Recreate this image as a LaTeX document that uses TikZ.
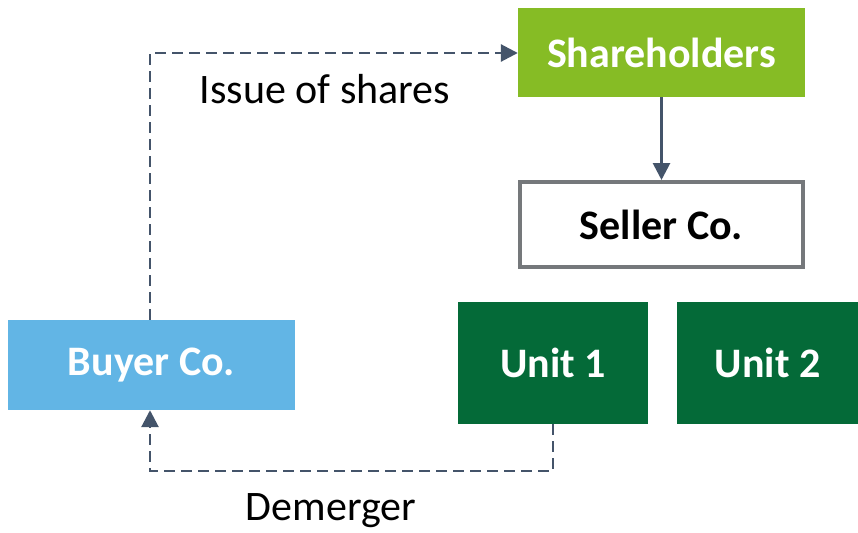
\documentclass[tikz,border=0pt]{standalone}
\usepackage{fontspec}
\setmainfont{Carlito}
\usetikzlibrary{arrows.meta}
\definecolor{shgreen}{HTML}{86BC25}
\definecolor{unitgreen}{HTML}{046A38}
\definecolor{buyerblue}{HTML}{62B5E5}
\definecolor{boxgray}{HTML}{75787B}
\definecolor{linkcol}{HTML}{44546A}
\tikzset{
  box/.style={rectangle, inner sep=0pt, font=\fontsize{42}{50}\selectfont\bfseries},
  filledbox/.style={box, text=white},
  label/.style={inner sep=0pt, font=\fontsize{42}{50}\selectfont},
  link/.style={draw=linkcol, line width=2.8pt, -{Triangle[length=17pt,width=17pt]}},
  dashlink/.style={link, dash pattern=on 11pt off 6pt},
}
\begin{document}
\begin{tikzpicture}[x=1pt,y=-1pt]
  \useasboundingbox (0,0) rectangle (858,532);
  % entities
  \node[filledbox, fill=shgreen, minimum width=287pt, minimum height=89pt] (sh) at (661.5,52.5) {Shareholders};
  \node[box, fill=white, draw=boxgray, line width=4pt, minimum width=283pt, minimum height=85pt] (seller) at (661.5,224.5) {Seller Co.};
  \node[filledbox, fill=buyerblue, minimum width=287pt, minimum height=90pt] (buyer) at (151.5,365) {Buyer Co.};
  \node[filledbox, fill=unitgreen, minimum width=190pt, minimum height=122pt] (u1) at (553,363) {Unit 1};
  \node[filledbox, fill=unitgreen, minimum width=181pt, minimum height=122pt] (u2) at (767.5,363) {Unit 2};
  % connectors
  \draw[link] (sh.south -| seller.north) -- (seller.north);
  \coordinate (topbend) at (150,53);
  \draw[dashlink] (buyer.north -| topbend) -- (topbend) -- (topbend -| sh.west);
  \coordinate (botbend) at (150,471);
  \draw[dashlink] (u1.south) -- (u1.south |- botbend) -- (botbend) -- (botbend |- buyer.south);
  % labels
  \node[label, anchor=base] (issue) at (325,103) {Issue of shares};
  \node[label, anchor=base] (demerger) at (331,520) {Demerger};
\end{tikzpicture}
\end{document}
